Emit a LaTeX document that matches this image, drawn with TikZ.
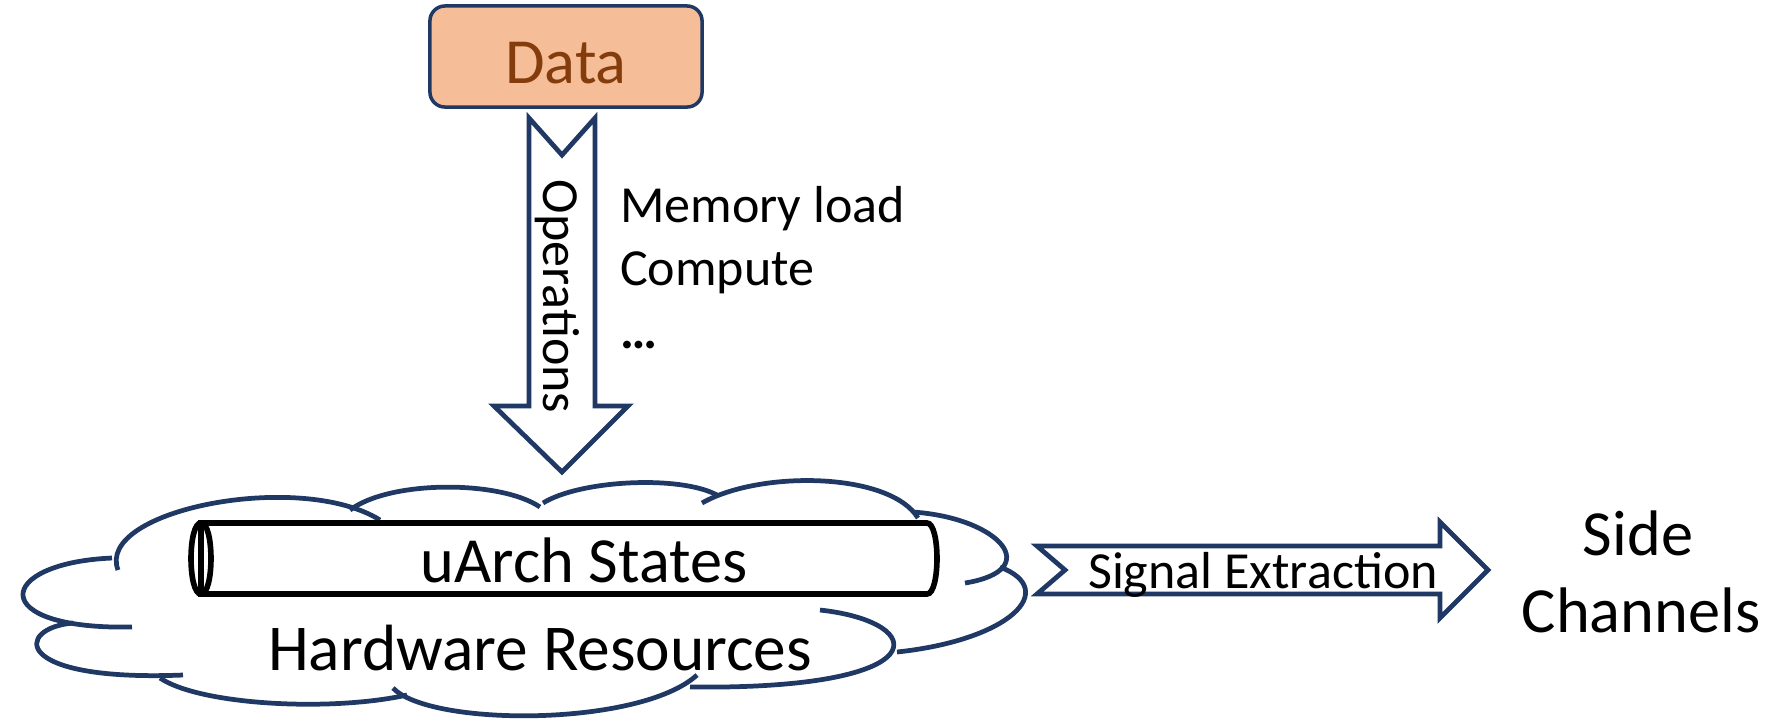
\documentclass[tikz,border=0pt]{standalone}
\usepackage{fontspec}
\setmainfont{Carlito}
\definecolor{navy}{HTML}{1F3864}
\definecolor{datafill}{HTML}{F6BE98}
\definecolor{datatext}{HTML}{843C0C}
\begin{document}
\begin{tikzpicture}[x=0.01cm,y=-0.01cm,
  outline/.style={draw=navy, line width=1.35pt, line join=miter},
  cloudline/.style={draw=navy, line width=1.35pt},
  cyl/.style={draw=black, line width=1.6pt},
  fsmall/.style={font=\fontsize{14.8pt}{17pt}\selectfont},
  fbig/.style={font=\fontsize{18.3pt}{22pt}\selectfont},
  fbigger/.style={font=\fontsize{18.6pt}{22pt}\selectfont},
  txt/.style={inner sep=0pt, outer sep=0pt},
  databox/.style={draw=navy, line width=1pt, fill=datafill, rounded corners=0.15cm,
    minimum width=2.72cm, minimum height=1.01cm, inner sep=0pt}
]
\useasboundingbox (0,0) rectangle (1788,723);

% Data box
\node[databox] (data) at (566,56.5) {};
\node[txt,fbig,text=datatext,anchor=base] (datalabel) at (566,83) {Data};

% Operations arrow
\draw[outline, fill=white] (529,118) -- (562,155) -- (595,118) -- (595,406) -- (628,406)
  -- (562,472) -- (494,406) -- (529,406) -- cycle;
\node[txt,fsmall,rotate=-90,anchor=base] (ops) at (543,296.5) {Operations};

% Operation list
\node[txt,fsmall,anchor=base west] (mem) at (620,222) {Memory load};
\node[txt,fsmall,anchor=base west] (comp) at (620,285) {Compute};
\node[txt,fsmall,anchor=base west] (dots) at (620,348) {\textbf{…}};

% Cloud
\draw[cloudline] (132,627) .. controls (-15,630) and (-5,563) .. (112,558);
\draw[cloudline] (73,623) .. controls (15,628) and (10,682) .. (183,675);
\draw[cloudline] (160,678) .. controls (200,705) and (330,712) .. (407,695);
\draw[cloudline] (393,688) .. controls (430,727) and (640,727) .. (697,675);
\draw[cloudline] (820,610) .. controls (930,622) and (940,690) .. (690,687);
\draw[cloudline] (897,652) .. controls (1010,640) and (1060,590) .. (1000,567);
\draw[cloudline] (913,512) .. controls (1000,518) and (1045,570) .. (965,583);
\draw[cloudline] (702,503) .. controls (760,470) and (890,472) .. (918,518);
\draw[cloudline] (543,503) .. controls (580,480) and (680,475) .. (717,495);
\draw[cloudline] (350,510) .. controls (390,480) and (500,480) .. (540,507);
\draw[cloudline] (118,570) .. controls (95,510) and (300,470) .. (380,520);

% Cylinder
\coordinate (cylTL) at (201,523);
\coordinate (cylTR) at (927,523);
\coordinate (cylBR) at (927,594);
\coordinate (cylBL) at (201,594);
\draw[cyl, fill=white] (cylTL) -- (cylTR) .. controls (940.3,523) and (940.3,594) .. (cylBR)
  -- (cylBL) -- cycle;
\draw[cyl] (cylTL) .. controls (187.7,523) and (187.7,594) .. (cylBL)
  .. controls (214.3,594) and (214.3,523) .. (cylTL);
\node[txt,fbig,anchor=base] (uarch) at (584,582) {uArch States};
\node[txt,fbigger,anchor=base] (hw) at (540,670) {Hardware Resources};

% Signal extraction arrow
\draw[outline, fill=white] (1037,546) -- (1440,546) -- (1440,522) -- (1488,570) -- (1440,618)
  -- (1440,594) -- (1037,594) -- (1065,570) -- cycle;
\node[txt,fsmall,anchor=base] (sig) at (1263,588) {Signal Extraction};

% Side channels
\node[txt,fbig,anchor=base] (side) at (1638,555) {Side};
\node[txt,fbig,anchor=base] (chan) at (1641,632) {Channels};
\end{tikzpicture}
\end{document}
